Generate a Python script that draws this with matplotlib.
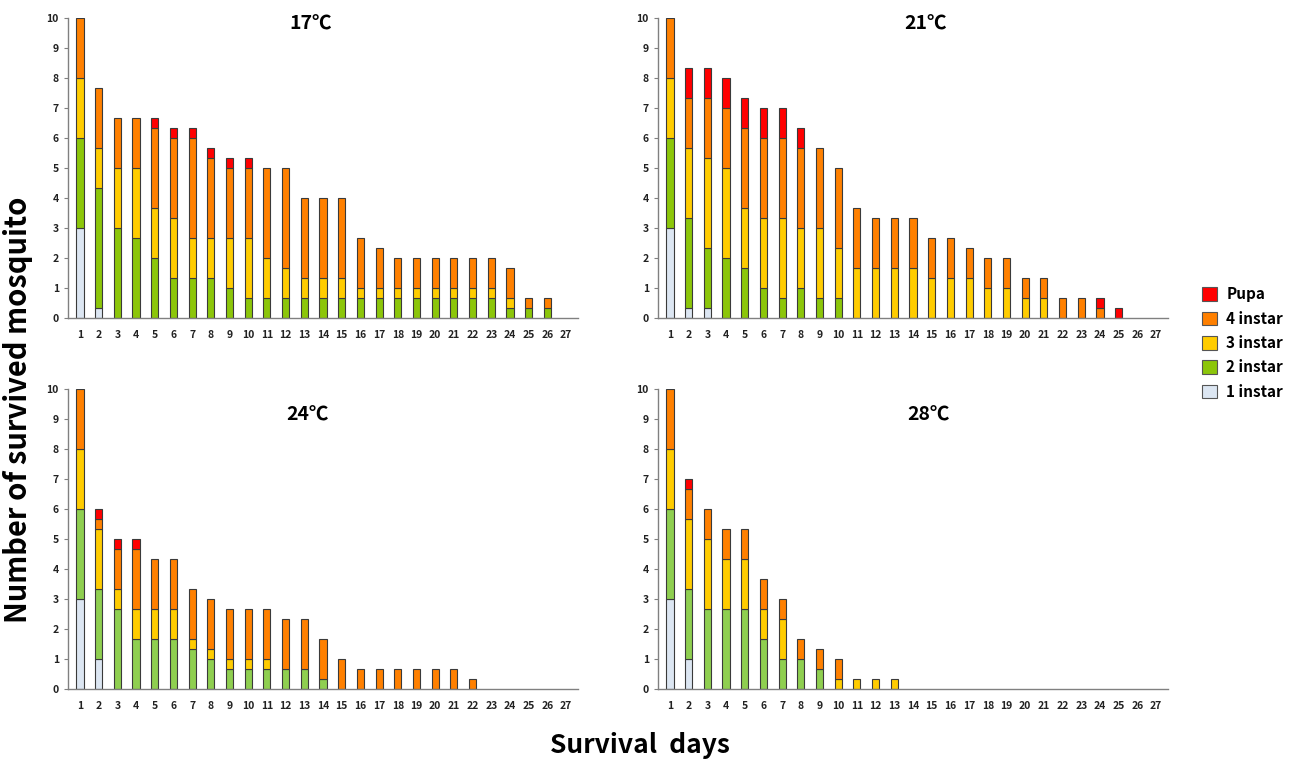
import matplotlib.pyplot as plt
import numpy as np
from matplotlib.patches import Patch

plt.rcParams['font.family'] = ['Noto Sans CJK KR', 'DejaVu Sans']
plt.rcParams['font.weight'] = 'bold'

days = np.arange(1, 28)
t = 1.0 / 3.0

# stage counts per day (mean of replicates), days 1..27
# 17 C
i1_17 = [3, t] + [0] * 25
i2_17 = [3, 4, 3, 8*t, 2, 4*t, 4*t, 4*t, 1, 2*t, 2*t, 2*t, 2*t, 2*t, 2*t,
         2*t, 2*t, 2*t, 2*t, 2*t, 2*t, 2*t, 2*t, t, t, t, 0]
i3_17 = [2, 4*t, 2, 7*t, 5*t, 2, 4*t, 4*t, 5*t, 2, 4*t, 1, 2*t, 2*t, 2*t,
         t, t, t, t, t, t, t, t, t, 0, 0, 0]
i4_17 = [2, 2, 5*t, 5*t, 8*t, 8*t, 10*t, 8*t, 7*t, 7*t, 3, 10*t, 8*t, 8*t, 8*t,
         5*t, 4*t, 1, 1, 1, 1, 1, 1, 1, t, t, 0]
pu_17 = [0, 0, 0, 0, t, t, t, t, t, t] + [0] * 17

# 21 C
i1_21 = [3, t, t] + [0] * 24
i2_21 = [3, 3, 2, 2, 5*t, 1, 2*t, 1, 2*t, 2*t] + [0] * 17
i3_21 = [2, 7*t, 3, 3, 2, 7*t, 8*t, 2, 7*t, 5*t, 5*t, 5*t, 5*t, 5*t, 4*t,
         4*t, 4*t, 1, 1, 2*t, 2*t, 0, 0, 0, 0, 0, 0]
i4_21 = [2, 5*t, 2, 2, 8*t, 8*t, 8*t, 8*t, 8*t, 8*t, 2, 5*t, 5*t, 5*t, 4*t,
         4*t, 1, 1, 1, 2*t, 2*t, 2*t, 2*t, t, 0, 0, 0]
pu_21 = [0, 1, 1, 1, 1, 1, 1, 2*t] + [0] * 15 + [t, t, 0, 0]

# 24 C
i1_24 = [3, 1] + [0] * 25
i2_24 = [3, 7*t, 8*t, 5*t, 5*t, 5*t, 4*t, 1, 2*t, 2*t, 2*t, 2*t, 2*t, t] + [0] * 13
i3_24 = [2, 2, 2*t, 1, 1, 1, t, t, t, t, t] + [0] * 16
i4_24 = [2, t, 4*t, 2, 5*t, 5*t, 5*t, 5*t, 5*t, 5*t, 5*t, 5*t, 5*t, 4*t, 1,
         2*t, 2*t, 2*t, 2*t, 2*t, 2*t, t, 0, 0, 0, 0, 0]
pu_24 = [0, t, t, t] + [0] * 23

# 28 C
i1_28 = [3, 1] + [0] * 25
i2_28 = [3, 7*t, 8*t, 8*t, 8*t, 5*t, 1, 1, 2*t] + [0] * 18
i3_28 = [2, 7*t, 7*t, 5*t, 5*t, 1, 4*t, 0, 0, t, t, t, t] + [0] * 14
i4_28 = [2, 1, 1, 1, 1, 1, 2*t, 2*t, 2*t, 2*t] + [0] * 17
pu_28 = [0, t] + [0] * 25

panels = [
    ('17\u2103', [i1_17, i2_17, i3_17, i4_17, pu_17]),
    ('21\u2103', [i1_21, i2_21, i3_21, i4_21, pu_21]),
    ('24\u2103', [i1_24, i2_24, i3_24, i4_24, pu_24]),
    ('28\u2103', [i1_28, i2_28, i3_28, i4_28, pu_28]),
]
stage_names = ['1 instar', '2 instar', '3 instar', '4 instar', 'Pupa']
top_colors = ['#dce6f2', '#8cc60a', '#ffcc00', '#ff8000', '#ff0000']
bot_colors = ['#dce6f2', '#8fcf50', '#ffcc00', '#ff8000', '#ff0000']

fig = plt.figure(figsize=(12.9, 7.64), dpi=100)

W = 510 / 1290
H = 300 / 764
boxes = [(68 / 1290, 0.5838), (658 / 1290, 0.5838),
         (68 / 1290, 0.0982), (658 / 1290, 0.0982)]
title_pos = [(0.475, 0.98), (0.524, 0.98), (0.47, 0.913), (0.53, 0.913)]

for k, (name, stages) in enumerate(panels):
    ax = fig.add_axes([boxes[k][0], boxes[k][1], W, H])
    colors = top_colors if k < 2 else bot_colors
    bottom = np.zeros(len(days))
    for vals, c in zip(stages, colors):
        vals = np.array(vals, dtype=float)
        mask = vals > 0
        ax.bar(days[mask], vals[mask], bottom=bottom[mask], width=0.38,
               color=c, edgecolor='#3a3a3a', linewidth=0.8)
        bottom += vals
    ax.set_xlim(0.36, 27.64)
    ax.set_ylim(0, 10)
    ax.set_xticks(days)
    ax.set_yticks(range(0, 11))
    ax.tick_params(axis='x', length=0, pad=9, labelsize=7.5)
    ax.tick_params(axis='y', length=3, width=0.8, color='#808080', labelsize=7.5)
    for lab in ax.get_xticklabels() + ax.get_yticklabels():
        lab.set_fontweight('bold')
        lab.set_color('#222222')
    for s in ['top', 'right']:
        ax.spines[s].set_visible(False)
    for s in ['left', 'bottom']:
        ax.spines[s].set_color('#808080')
        ax.spines[s].set_linewidth(1.0)
    ax.text(title_pos[k][0], title_pos[k][1], name, transform=ax.transAxes,
            ha='center', va='center', fontsize=14, fontweight='bold')

handles = [Patch(facecolor=c, edgecolor='#555555', linewidth=0.8)
           for c in top_colors][::-1]
fig.legend(handles, stage_names[::-1], loc='center left',
           bbox_to_anchor=(1188 / 1290, 1 - 343 / 764), frameon=False,
           prop={'size': 11, 'weight': 'bold'}, handlelength=1.0,
           handleheight=1.0, handletextpad=0.6, labelspacing=0.55)

fig.text(0.014, 0.463, 'Number of survived mosquito', rotation=90,
         ha='center', va='center', fontsize=21, fontweight='bold')
fig.text(0.496, 0.024, 'Survival  days', ha='center', va='center',
         fontsize=19, fontweight='bold')

fig.savefig('out.png', dpi=100)
